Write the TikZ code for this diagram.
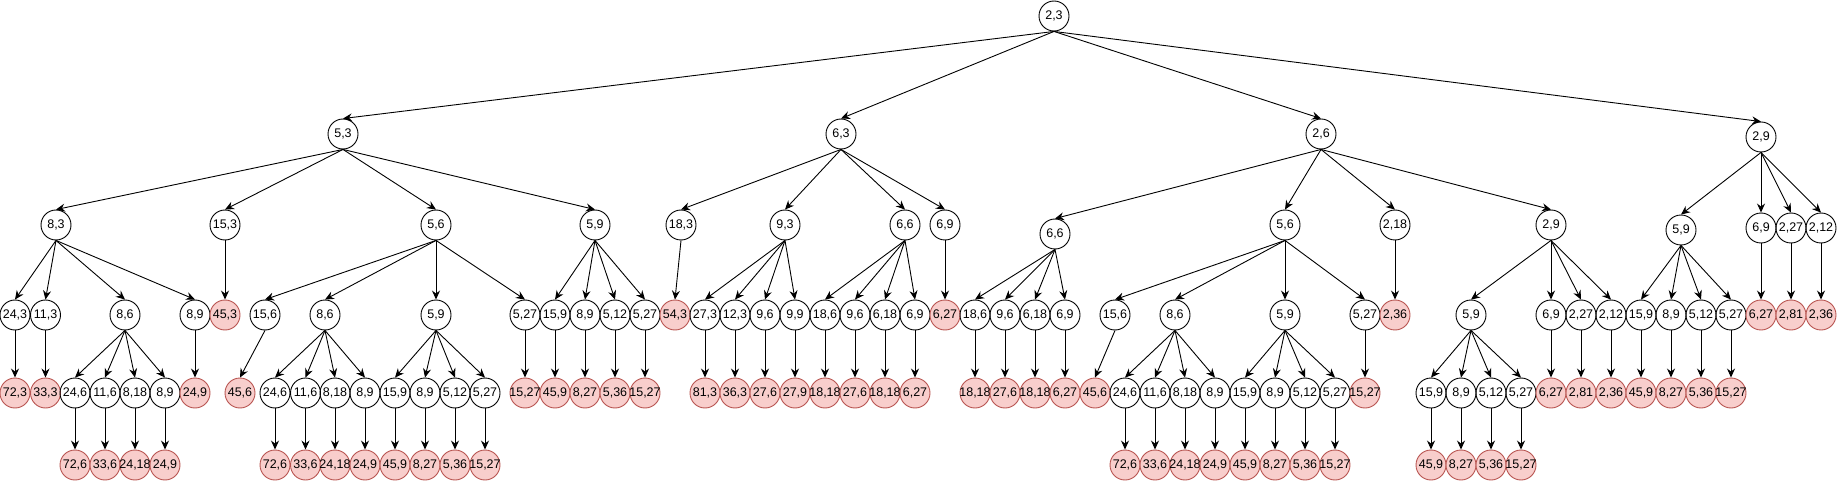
\documentclass[tikz,border=0pt]{standalone}
\usepackage{fontspec}
\setmainfont{Liberation Sans}
\usetikzlibrary{arrows.meta}
\definecolor{leaffill}{HTML}{F8CECC}
\definecolor{leafdraw}{HTML}{B85450}

\begin{document}
\begin{tikzpicture}[x=1pt,y=-1pt]
  \tikzset{vertex/.style = {circle,draw=black,line width=0.9pt,minimum size=30pt,inner sep=-1.5pt,font=\fontsize{12.5}{14}\selectfont}}
  \tikzset{leaf/.style = {vertex,draw=leafdraw,fill=leaffill}}
  \tikzset{link/.style = {-{Stealth[length=9pt,width=8pt,inset=3pt]},line width=0.9pt}}
  \useasboundingbox (0,0) rectangle (1837,481);

\node[vertex] (r)  at (1054,16) {2,3};

\node[vertex] (r1)  at (343,134) {5,3};
\node[vertex] (r2)  at (841,134) {6,3};
\node[vertex] (r3)  at (1321,134) {2,6};
\node[vertex] (r4)  at (1761,137) {2,9};

% 5,3
\node[vertex] (r11)  at (56,225) {8,3};
\node[vertex] (r12)  at (225,225) {15,3};
\node[vertex] (r13)  at (436,225) {5,6};
\node[vertex] (r14)  at (595,225) {5,9};

\node[vertex] (r111)  at (15,315) {24,3};
\node[vertex] (r112)  at (45.5,315) {11,3};
\node[vertex] (r113)  at (125,315) {8,6};
\node[vertex] (r114)  at (195,315) {8,9};
\node[leaf] (r1111)  at (15,393) {72,3};
\node[leaf] (r1121)  at (45.5,393) {33,3};
\node[vertex] (r1131)  at (75,393) {24,6};
\node[vertex] (r1132)  at (105,393) {11,6};
\node[vertex] (r1133)  at (135,393) {8,18};
\node[vertex] (r1134)  at (165,393) {8,9};
\node[leaf] (r11311)  at (75,465) {72,6};
\node[leaf] (r11321)  at (105,465) {33,6};
\node[leaf] (r11331)  at (135,465) {24,18};
\node[leaf] (r11341)  at (165,465) {24,9};
\node[leaf] (r1141)  at (195,393) {24,9};

\node[leaf] (r121)  at (225,315) {45,3};

\node[vertex] (r131)  at (265,315) {15,6};
\node[vertex] (r132)  at (325,315) {8,6};
\node[vertex] (r133)  at (436,315) {5,9};
\node[vertex] (r134)  at (525,315) {5,27};
\node[leaf] (r1311)  at (240,393) {45,6};
\node[vertex] (r1321)  at (275,393) {24,6};
\node[vertex] (r1322)  at (305.5,393) {11,6};
\node[vertex] (r1323)  at (335,393) {8,18};
\node[vertex] (r1324)  at (365,393) {8,9};
\node[leaf] (r13211)  at (275,465) {72,6};
\node[leaf] (r13221)  at (305.5,465) {33,6};
\node[leaf] (r13231)  at (335,465) {24,18};
\node[leaf] (r13241)  at (365,465) {24,9};
\node[vertex] (r1331)  at (395,393) {15,9};
\node[vertex] (r1332)  at (425,393) {8,9};
\node[vertex] (r1333)  at (455,393) {5,12};
\node[vertex] (r1334)  at (485,393) {5,27};
\node[leaf] (r13311)  at (395,465) {45,9};
\node[leaf] (r13321)  at (425,465) {8,27};
\node[leaf] (r13331)  at (455,465) {5,36};
\node[leaf] (r13341)  at (485,465) {15,27};
\node[leaf] (r1341)  at (525,393) {15,27};

\node[vertex] (r141)  at (555,315) {15,9};
\node[vertex] (r142)  at (585,315) {8,9};
\node[vertex] (r143)  at (615,315) {5,12};
\node[vertex] (r144)  at (645,315) {5,27};
\node[leaf] (r1411)  at (555,393) {45,9};
\node[leaf] (r1421)  at (585,393) {8,27};
\node[leaf] (r1431)  at (615,393) {5,36};
\node[leaf] (r1441)  at (645,393) {15,27};

% 6,3
\node[vertex] (r21)  at (681,225) {18,3};
\node[vertex] (r22)  at (785,225) {9,3};
\node[vertex] (r23)  at (905,225) {6,6};
\node[vertex] (r24)  at (945,225) {6,9};

\node[leaf] (r211)  at (675,315) {54,3};
\node[vertex] (r221)  at (705,315) {27,3};
\node[vertex] (r222)  at (735,315) {12,3};
\node[vertex] (r223)  at (765,315) {9,6};
\node[vertex] (r224)  at (795,315) {9,9};
\node[leaf] (r2211)  at (705,393) {81,3};
\node[leaf] (r2221)  at (735,393) {36,3};
\node[leaf] (r2231)  at (765,393) {27,6};
\node[leaf] (r2241)  at (795,393) {27,9};
\node[vertex] (r231)  at (825,315) {18,6};
\node[vertex] (r232)  at (855,315) {9,6};
\node[vertex] (r233)  at (885,315) {6,18};
\node[vertex] (r234)  at (915,315) {6,9};
\node[leaf] (r2311)  at (825,393) {18,18};
\node[leaf] (r2321)  at (855,393) {27,6};
\node[leaf] (r2331)  at (885,393) {18,18};
\node[leaf] (r2341)  at (915,393) {6,27};
\node[leaf] (r241)  at (945,315) {6,27};

% 2,6
\node[vertex] (r31)  at (1055,234) {6,6};
\node[vertex] (r32)  at (1285,225) {5,6};
\node[vertex] (r33)  at (1395,225) {2,18};
\node[vertex] (r34)  at (1551,225) {2,9};

\node[vertex] (r311)  at (975,315) {18,6};
\node[vertex] (r312)  at (1005,315) {9,6};
\node[vertex] (r313)  at (1035,315) {6,18};
\node[vertex] (r314)  at (1065,315) {6,9};
\node[leaf] (r3111)  at (975,393) {18,18};
\node[leaf] (r3121)  at (1005,393) {27,6};
\node[leaf] (r3131)  at (1035,393) {18,18};
\node[leaf] (r3141)  at (1065,393) {6,27};

\node[vertex] (r321)  at (1115,315) {15,6};
\node[vertex] (r322)  at (1175,315) {8,6};
\node[vertex] (r323)  at (1285,315) {5,9};
\node[vertex] (r324)  at (1365,315) {5,27};
\node[leaf] (r3211)  at (1095,393) {45,6};
\node[vertex] (r3221)  at (1125,393) {24,6};
\node[vertex] (r3222)  at (1155,393) {11,6};
\node[vertex] (r3223)  at (1185,393) {8,18};
\node[vertex] (r3224)  at (1215,393) {8,9};
\node[leaf] (r32211)  at (1125,465) {72,6};
\node[leaf] (r32221)  at (1155,465) {33,6};
\node[leaf] (r32231)  at (1185,465) {24,18};
\node[leaf] (r32241)  at (1215,465) {24,9};
\node[vertex] (r3231)  at (1245,393) {15,9};
\node[vertex] (r3232)  at (1275,393) {8,9};
\node[vertex] (r3233)  at (1305,393) {5,12};
\node[vertex] (r3234)  at (1335,393) {5,27};
\node[leaf] (r32311)  at (1245,465) {45,9};
\node[leaf] (r32321)  at (1275,465) {8,27};
\node[leaf] (r32331)  at (1305,465) {5,36};
\node[leaf] (r32341)  at (1335,465) {15,27};
\node[leaf] (r3241)  at (1365,393) {15,27};

\node[leaf] (r331)  at (1395,315) {2,36};

\node[vertex] (r341)  at (1471,315) {5,9};
\node[vertex] (r342)  at (1551,315) {6,9};
\node[vertex] (r343)  at (1581,315) {2,27};
\node[vertex] (r344)  at (1611,315) {2,12};
\node[vertex] (r3411)  at (1431,393) {15,9};
\node[vertex] (r3412)  at (1461,393) {8,9};
\node[vertex] (r3413)  at (1491,393) {5,12};
\node[vertex] (r3414)  at (1521,393) {5,27};
\node[leaf] (r34111)  at (1431,465) {45,9};
\node[leaf] (r34121)  at (1461,465) {8,27};
\node[leaf] (r34131)  at (1491,465) {5,36};
\node[leaf] (r34141)  at (1521,465) {15,27};
\node[leaf] (r3421)  at (1551,393) {6,27};
\node[leaf] (r3431)  at (1581,393) {2,81};
\node[leaf] (r3441)  at (1611,393) {2,36};

% 2,9
\node[vertex] (r41)  at (1681,230) {5,9};
\node[vertex] (r42)  at (1761,228) {6,9};
\node[vertex] (r43)  at (1791,228) {2,27};
\node[vertex] (r44)  at (1821,228) {2,12};

\node[vertex] (r411)  at (1641,315) {15,9};
\node[vertex] (r412)  at (1671,315) {8,9};
\node[vertex] (r413)  at (1701,315) {5,12};
\node[vertex] (r414)  at (1731,315) {5,27};
\node[leaf] (r4111)  at (1641,393) {45,9};
\node[leaf] (r4121)  at (1671,393) {8,27};
\node[leaf] (r4131)  at (1701,393) {5,36};
\node[leaf] (r4141)  at (1731,393) {15,27};
\node[leaf] (r421)  at (1761,315) {6,27};
\node[leaf] (r431)  at (1791,315) {2,81};
\node[leaf] (r441)  at (1821,315) {2,36};

  \path[link] (r.south) edge (r1.north) (r.south) edge (r2.north) (r.south) edge (r3.north) (r.south) edge (r4.north);

  \path[link] (r1.south) edge (r11.north) (r1.south) edge (r12.north) (r1.south) edge (r13.north) (r1.south) edge (r14.north);
  \path[link] (r11.south) edge (r111.north) (r11.south) edge (r112.north) (r11.south) edge (r113.north) (r11.south) edge (r114.north);
  \path[link] (r111.south) edge (r1111.north);
  \path[link] (r112.south) edge (r1121.north);
  \path[link] (r113.south) edge (r1131.north) (r113.south) edge (r1132.north) (r113.south) edge (r1133.north) (r113.south) edge (r1134.north);
  \path[link] (r1131.south) edge (r11311.north);
  \path[link] (r1132.south) edge (r11321.north);
  \path[link] (r1133.south) edge (r11331.north);
  \path[link] (r1134.south) edge (r11341.north);
  \path[link] (r114.south) edge (r1141.north);
  \path[link] (r12.south) edge (r121.north);
  \path[link] (r13.south) edge (r131.north) (r13.south) edge (r132.north) (r13.south) edge (r133.north) (r13.south) edge (r134.north);
  \path[link] (r131.south) edge (r1311.north);
  \path[link] (r132.south) edge (r1321.north) (r132.south) edge (r1322.north) (r132.south) edge (r1323.north) (r132.south) edge (r1324.north);
  \path[link] (r1321.south) edge (r13211.north);
  \path[link] (r1322.south) edge (r13221.north);
  \path[link] (r1323.south) edge (r13231.north);
  \path[link] (r1324.south) edge (r13241.north);
  \path[link] (r133.south) edge (r1331.north) (r133.south) edge (r1332.north) (r133.south) edge (r1333.north) (r133.south) edge (r1334.north);
  \path[link] (r1331.south) edge (r13311.north);
  \path[link] (r1332.south) edge (r13321.north);
  \path[link] (r1333.south) edge (r13331.north);
  \path[link] (r1334.south) edge (r13341.north);
  \path[link] (r134.south) edge (r1341.north);
  \path[link] (r14.south) edge (r141.north) (r14.south) edge (r142.north) (r14.south) edge (r143.north) (r14.south) edge (r144.north);
  \path[link] (r141.south) edge (r1411.north);
  \path[link] (r142.south) edge (r1421.north);
  \path[link] (r143.south) edge (r1431.north);
  \path[link] (r144.south) edge (r1441.north);

  \path[link] (r2.south) edge (r21.north) (r2.south) edge (r22.north) (r2.south) edge (r23.north) (r2.south) edge (r24.north);
  \path[link] (r21.south) edge (r211.north);
  \path[link] (r22.south) edge (r221.north) (r22.south) edge (r222.north) (r22.south) edge (r223.north) (r22.south) edge (r224.north);
  \path[link] (r221.south) edge (r2211.north);
  \path[link] (r222.south) edge (r2221.north);
  \path[link] (r223.south) edge (r2231.north);
  \path[link] (r224.south) edge (r2241.north);
  \path[link] (r23.south) edge (r231.north) (r23.south) edge (r232.north) (r23.south) edge (r233.north) (r23.south) edge (r234.north);
  \path[link] (r231.south) edge (r2311.north);
  \path[link] (r232.south) edge (r2321.north);
  \path[link] (r233.south) edge (r2331.north);
  \path[link] (r234.south) edge (r2341.north);
  \path[link] (r24.south) edge (r241.north);

  \path[link] (r3.south) edge (r31.north) (r3.south) edge (r32.north) (r3.south) edge (r33.north) (r3.south) edge (r34.north);
  \path[link] (r31.south) edge (r311.north) (r31.south) edge (r312.north) (r31.south) edge (r313.north) (r31.south) edge (r314.north);
  \path[link] (r311.south) edge (r3111.north);
  \path[link] (r312.south) edge (r3121.north);
  \path[link] (r313.south) edge (r3131.north);
  \path[link] (r314.south) edge (r3141.north);
  \path[link] (r32.south) edge (r321.north) (r32.south) edge (r322.north) (r32.south) edge (r323.north) (r32.south) edge (r324.north);
  \path[link] (r321.south) edge (r3211.north);
  \path[link] (r322.south) edge (r3221.north) (r322.south) edge (r3222.north) (r322.south) edge (r3223.north) (r322.south) edge (r3224.north);
  \path[link] (r3221.south) edge (r32211.north);
  \path[link] (r3222.south) edge (r32221.north);
  \path[link] (r3223.south) edge (r32231.north);
  \path[link] (r3224.south) edge (r32241.north);
  \path[link] (r323.south) edge (r3231.north) (r323.south) edge (r3232.north) (r323.south) edge (r3233.north) (r323.south) edge (r3234.north);
  \path[link] (r3231.south) edge (r32311.north);
  \path[link] (r3232.south) edge (r32321.north);
  \path[link] (r3233.south) edge (r32331.north);
  \path[link] (r3234.south) edge (r32341.north);
  \path[link] (r324.south) edge (r3241.north);
  \path[link] (r33.south) edge (r331.north);
  \path[link] (r34.south) edge (r341.north) (r34.south) edge (r342.north) (r34.south) edge (r343.north) (r34.south) edge (r344.north);
  \path[link] (r341.south) edge (r3411.north) (r341.south) edge (r3412.north) (r341.south) edge (r3413.north) (r341.south) edge (r3414.north);
  \path[link] (r3411.south) edge (r34111.north);
  \path[link] (r3412.south) edge (r34121.north);
  \path[link] (r3413.south) edge (r34131.north);
  \path[link] (r3414.south) edge (r34141.north);
  \path[link] (r342.south) edge (r3421.north);
  \path[link] (r343.south) edge (r3431.north);
  \path[link] (r344.south) edge (r3441.north);

  \path[link] (r4.south) edge (r41.north) (r4.south) edge (r42.north) (r4.south) edge (r43.north) (r4.south) edge (r44.north);
  \path[link] (r41.south) edge (r411.north) (r41.south) edge (r412.north) (r41.south) edge (r413.north) (r41.south) edge (r414.north);
  \path[link] (r411.south) edge (r4111.north);
  \path[link] (r412.south) edge (r4121.north);
  \path[link] (r413.south) edge (r4131.north);
  \path[link] (r414.south) edge (r4141.north);
  \path[link] (r42.south) edge (r421.north);
  \path[link] (r43.south) edge (r431.north);
  \path[link] (r44.south) edge (r441.north);

\end{tikzpicture}
\end{document}
